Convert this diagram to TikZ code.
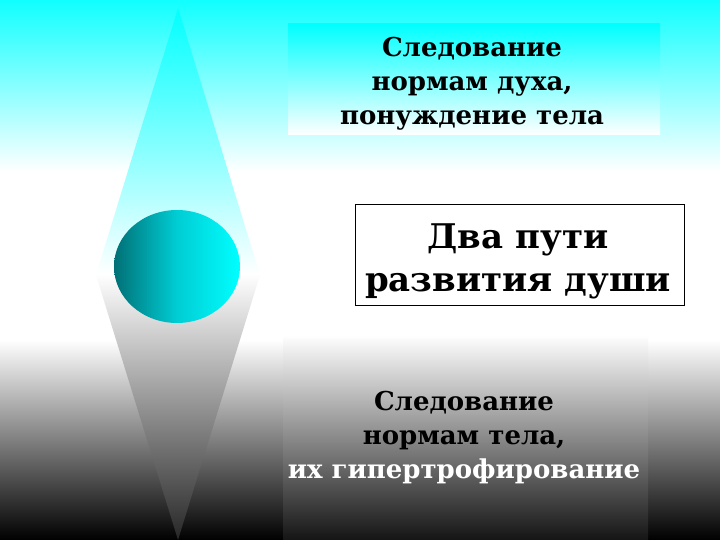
\documentclass[tikz,border=0pt]{standalone}
\usepackage{fontspec}
\setmainfont{DejaVu Serif}
\definecolor{cy}{RGB}{0,255,255}
\definecolor{cyb}{RGB}{16,255,255}
\definecolor{tealdk}{RGB}{0,112,118}
\definecolor{tealmid}{RGB}{0,205,212}
\begin{document}
\begin{tikzpicture}[x=1pt,y=-1pt,
  txt/.style={inner sep=0pt,align=center,font=\bfseries\fontsize{26}{34}\selectfont},
  bigtxt/.style={inner sep=0pt,align=center,font=\bfseries\fontsize{34}{43}\selectfont}]
\useasboundingbox (0,0) rectangle (720,540);
% background
\shade[top color=cyb,bottom color=white] (0,0) rectangle (720,172);
\fill[white] (0,171) rectangle (720,341);
\shade[top color=white,bottom color=black] (0,340) rectangle (720,540);
% diamond
\shade[top color=cy,bottom color=black!85,middle color=white] (178,8) -- (96,275) -- (178,540) -- (260,275) -- cycle;
% top panel
\shade[top color=cy,bottom color=white] (288,24) rectangle (660,135);
% bottom panel
\shade[top color=white,bottom color=black!92] (283,335) rectangle (648,540);
% circle
\shade[left color=tealdk,right color=cy,middle color=tealmid] (177,266.5) ellipse [x radius=63,y radius=56.5];
% middle box
\node[draw=black,line width=0.8pt,fill=white,minimum width=329pt,minimum height=101pt,inner sep=0pt] (box) at (519.5,254.5) {};
\node[bigtxt] (title) at (518,261) {Два пути\\развития души};
\node[txt] (top) at (472,84) {Следование\\нормам духа,\\понуждение тела};
\node[txt] (bottom) at (464,438) {Следование\\нормам тела,\\\textcolor{white}{их гипертрофирование}};
\end{tikzpicture}
\end{document}
